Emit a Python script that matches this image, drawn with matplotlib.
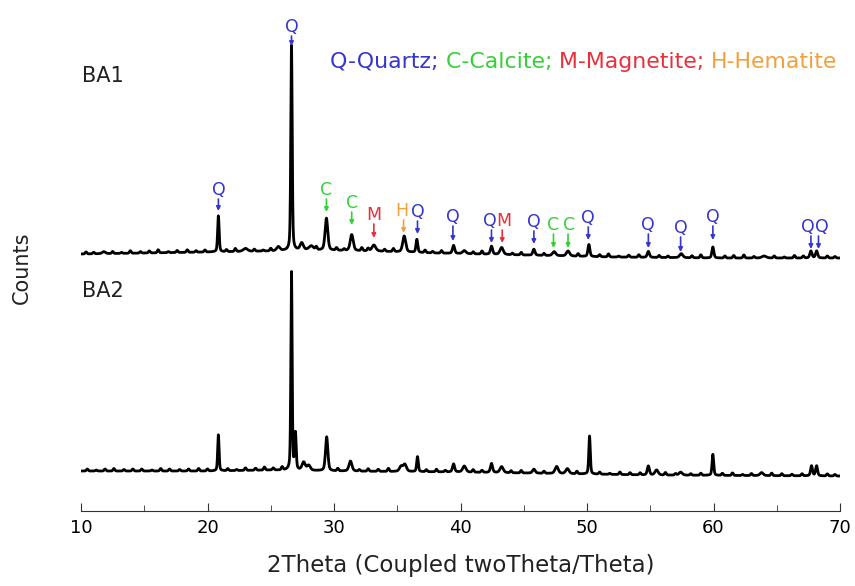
import numpy as np
import matplotlib
matplotlib.use("Agg")
import matplotlib.pyplot as plt
from matplotlib.ticker import MultipleLocator

plt.rcParams['font.family'] = ['DejaVu Sans']

# ---------------- data ----------------
x_ticks = [10, 20, 30, 40, 50, 60, 70]

# background levels (arbitrary counts, stacked scale)
ba1_bg_pos = [10, 15, 20, 25, 28, 33, 38, 45, 52, 60, 70]
ba1_bg_lvl = [257, 258, 259, 260, 261, 260, 258, 256, 254, 253, 253]
ba2_bg_pos = [10, 20, 25, 30, 40, 50, 55, 70]
ba2_bg_lvl = [40, 40, 41, 40, 39, 37, 36, 35]

# BA1 reflections: position (2theta), intensity, FWHM
ba1_pos = [11.8, 20.86, 23.0, 25.6, 26.64, 27.45, 28.2, 29.40, 31.40, 33.15, 35.55, 36.55,
           39.45, 40.3, 42.45, 43.25, 45.8, 47.4, 48.5, 50.15, 54.85, 57.45, 59.95, 64.0,
           67.7, 68.15]
ba1_int = [2, 36, 3, 4, 205, 7, 4, 32, 16, 6, 16, 13,
           8, 3, 8, 7, 6, 4, 5, 12, 6, 4, 11, 2,
           7, 7]
ba1_fw = [0.3, 0.14, 0.4, 0.3, 0.13, 0.3, 0.4, 0.25, 0.28, 0.35, 0.28, 0.16,
          0.2, 0.3, 0.2, 0.3, 0.2, 0.3, 0.3, 0.18, 0.2, 0.3, 0.18, 0.4,
          0.2, 0.2]

# small background wiggles seen along BA1 (position, height)
ba1_wig_pos = [10.4, 11.0, 12.5, 13.2, 13.9, 14.7, 15.4, 16.1, 16.9, 17.6, 18.4, 19.1, 19.8,
               21.5, 22.2, 23.7, 24.4, 25.0, 28.6, 30.2, 30.8, 32.2, 32.7, 34.0, 34.7, 37.2,
               37.8, 38.5, 41.0, 41.7, 44.1, 44.8, 46.6, 49.3, 51.0, 51.7, 52.5, 53.3, 54.1,
               55.7, 56.4, 58.3, 59.0, 60.9, 61.6, 62.4, 63.2, 64.8, 65.6, 66.4, 67.1, 69.0, 69.6]
ba1_wig_int = [2, 1.5, 2, 1, 2.5, 1.5, 2, 3, 1, 2, 2.5, 1.5, 2,
               2, 3, 2, 1, 2.5, 3, 2.5, 1.5, 3, 2.5, 2, 3, 2.5,
               1.5, 2.5, 2, 3, 1.5, 2.5, 2, 2.5, 2, 3, 1, 2, 2.5,
               2, 1.5, 2, 3, 2, 2.5, 3, 1.5, 2, 1, 2.5, 2, 2, 1.5]

# BA2 reflections
ba2_pos = [20.86, 26.64, 26.95, 27.6, 28.0, 29.42, 31.3, 35.3, 35.6, 36.6, 39.45, 40.3,
           42.45, 43.25, 45.8, 47.6, 48.45, 50.2, 54.85, 55.5, 57.4, 59.95, 63.8, 67.75, 68.15]
ba2_int = [36, 198, 36, 8, 5, 34, 10, 5, 7, 15, 8, 6,
           9, 6, 4, 7, 5, 38, 9, 5, 3, 21, 3, 10, 10]
ba2_fw = [0.13, 0.12, 0.14, 0.3, 0.3, 0.22, 0.28, 0.3, 0.3, 0.15, 0.2, 0.3,
          0.2, 0.3, 0.25, 0.3, 0.3, 0.14, 0.2, 0.3, 0.3, 0.15, 0.3, 0.18, 0.18]

ba2_wig_pos = [10.5, 11.2, 11.9, 12.6, 13.4, 14.1, 14.8, 15.6, 16.3, 17.0, 17.8, 18.5, 19.3,
               20.0, 21.6, 22.3, 23.0, 23.8, 24.5, 25.2, 25.9, 30.3, 32.0, 32.7, 33.5, 34.3,
               37.3, 38.1, 38.8, 41.0, 41.7, 44.0, 44.8, 46.6, 49.2, 51.0, 51.8, 52.6, 53.4,
               54.2, 56.2, 57.0, 58.2, 59.0, 60.7, 61.5, 62.3, 63.0, 64.6, 65.4, 66.2, 67.0,
               69.0, 69.6]
ba2_wig_int = [2, 1, 2, 2.5, 1.5, 2, 2, 1, 2.5, 2, 1.5, 2, 2.5,
               2, 2, 1, 2.5, 2, 3, 2, 3, 2.5, 1.5, 2.5, 2, 3,
               2, 2.5, 1.5, 2.5, 2, 2, 2.5, 2, 2.5, 2, 1, 2.5, 2,
               2, 2.5, 1.5, 1.5, 2, 2, 2.5, 1, 2, 2.5, 2, 1.5, 2,
               2, 1.5]

# phase markers on BA1
phase_pos = [20.86, 26.64, 29.40, 31.40, 33.15, 35.50, 36.60, 39.40, 42.45, 43.30,
             45.80, 47.35, 48.50, 50.10, 54.85, 57.40, 59.95, 67.70, 68.30]
phase_letter = ['Q', 'Q', 'C', 'C', 'M', 'H', 'Q', 'Q', 'Q', 'M',
                'Q', 'C', 'C', 'Q', 'Q', 'Q', 'Q', 'Q', 'Q']
label_x = [20.86, 26.64, 29.40, 31.40, 33.15, 35.40, 36.60, 39.40, 42.35, 43.40,
           45.80, 47.30, 48.55, 50.10, 54.85, 57.40, 59.95, 67.45, 68.55]
label_y = [321, 484, 321, 308, 296, 300, 299, 294, 290, 290,
           289, 286, 286, 293, 286, 283, 294, 284, 284]
tip_y = [300, 465, 299, 286, 273, 278, 277, 270, 268, 268,
         267, 263, 263, 271, 263, 259, 271, 262, 262]

phase_colors = {'Q': '#3535d0', 'C': '#35d035', 'M': '#e8303a', 'H': '#f2a03c'}
legend_parts = [('Q-Quartz; ', 'Q'), ('C-Calcite; ', 'C'),
                ('M-Magnetite; ', 'M'), ('H-Hematite', 'H')]


def pattern(tt, pos, inten, fw, bgp, bgl, wp, wi):
    y = np.interp(tt, bgp, bgl).astype(float)
    for p, h, w in zip(pos, inten, fw):
        g = np.exp(-4 * np.log(2) * ((tt - p) / w) ** 2)
        lz = 1.0 / (1 + 4 * ((tt - p) / w) ** 2)
        y += h * (0.6 * g + 0.4 * lz)
    for p, h in zip(wp, wi):
        y += h * np.exp(-4 * np.log(2) * ((tt - p) / 0.16) ** 2)
    return y


tt = np.arange(10, 70.0001, 0.01)
y1 = pattern(tt, ba1_pos, ba1_int, ba1_fw, ba1_bg_pos, ba1_bg_lvl, ba1_wig_pos, ba1_wig_int)
y2 = pattern(tt, ba2_pos, ba2_int, ba2_fw, ba2_bg_pos, ba2_bg_lvl, ba2_wig_pos, ba2_wig_int)

# ---------------- figure ----------------
fig = plt.figure(figsize=(8.55, 5.86), dpi=100)
ax = fig.add_axes([81 / 855, 1 - 511 / 586, (840 - 81) / 855, 511 / 586])
ax.plot(tt, y1, color='black', lw=2.0)
ax.plot(tt, y2, color='black', lw=2.0)
ax.set_xlim(10, 70)
ax.set_ylim(0, 511)

for s in ['top', 'left', 'right']:
    ax.spines[s].set_visible(False)
ax.spines['bottom'].set_color('#333333')
ax.set_yticks([])
ax.set_xticks(x_ticks)
ax.xaxis.set_minor_locator(MultipleLocator(5))
ax.tick_params(axis='x', which='major', direction='in', length=6, labelsize=13, pad=6, color='#333333')
ax.tick_params(axis='x', which='minor', direction='in', length=4, color='#333333')
ax.set_xlabel('2Theta (Coupled twoTheta/Theta)', fontsize=16.5, labelpad=12, color='#222222')

for px, lx, lab, ly, ty in zip(phase_pos, label_x, phase_letter, label_y, tip_y):
    c = phase_colors[lab]
    ax.text(lx, ly, lab, color=c, fontsize=12.5, ha='center', va='center')
    ax.annotate('', xy=(px, ty), xytext=(px, ly - 9),
                arrowprops=dict(arrowstyle='-|>', color=c, lw=1.2,
                                mutation_scale=6, shrinkA=0, shrinkB=0))

fig.text(82 / 855, 1 - 76 / 586, 'BA1', fontsize=15, ha='left', va='center', color='#222222')
fig.text(82 / 855, 1 - 291 / 586, 'BA2', fontsize=15, ha='left', va='center', color='#222222')
fig.text(22 / 855, 1 - 268 / 586, 'Counts', fontsize=15, rotation=90, ha='center', va='center', color='#222222')

prev = None
for txt, key in legend_parts:
    if prev is None:
        prev = fig.text(330 / 855, 1 - 62 / 586, txt, color=phase_colors[key], fontsize=15.8,
                        ha='left', va='center')
    else:
        prev = ax.annotate(txt, xy=(1, 0), xycoords=prev, va='bottom', ha='left',
                           color=phase_colors[key], fontsize=15.8, annotation_clip=False)

fig.savefig('out.png', dpi=100)
